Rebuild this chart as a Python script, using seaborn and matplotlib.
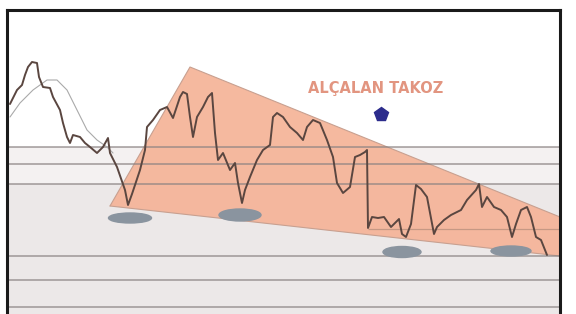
import matplotlib
matplotlib.use("Agg")
import matplotlib.pyplot as plt
from matplotlib.patches import Ellipse
import pandas as pd
import seaborn as sns

# fiyat serisi (gun, fiyat)
gun = [10, 12, 17, 22, 25, 28, 32, 37, 39, 43, 50, 53, 60, 63, 67, 70, 73, 80, 85, 90,
       97, 103, 108, 110, 117, 125, 128, 132, 140, 145, 147, 153, 160, 167, 173, 180, 183, 187, 190, 193,
       197, 200, 203, 208, 212, 215, 218, 223, 230, 235, 238, 242, 245, 250, 257, 263, 270, 273, 277, 283,
       290, 297, 303, 307, 313, 320, 327, 333, 337, 343, 350, 355, 360, 365, 367, 368, 372, 378, 384, 391,
       399, 402, 406, 411, 416, 421, 427, 434, 437, 444, 451, 461, 467, 476, 479, 482, 487, 494, 501, 507,
       512, 516, 521, 527, 531, 536, 541, 547]
fiyat = [226, 230, 240, 245, 255, 263, 268, 267, 253, 243, 242, 233, 220, 207, 193, 187, 195, 193, 187, 183,
         177, 183, 192, 177, 163, 140, 125, 136, 160, 180, 203, 210, 220, 223, 212, 233, 238, 236, 213, 193,
         213, 218, 223, 233, 237, 197, 170, 177, 160, 167, 147, 127, 140, 153, 170, 180, 185, 213, 217, 213,
         203, 197, 190, 203, 210, 207, 190, 173, 147, 137, 143, 173, 175, 178, 180, 102, 113, 112, 113, 103,
         111, 96, 93, 106, 145, 141, 133, 96, 103, 110, 115, 120, 130, 140, 146, 123, 133, 123, 120, 113,
         93, 106, 120, 123, 113, 93, 90, 75]

# hareketli ortalama
ort_gun = [10, 20, 33, 47, 57, 67, 77, 87, 97, 107, 113]
ort_fiyat = [213, 227, 240, 250, 250, 240, 220, 200, 190, 183, 177]

# alcalan takoz koseleri
takoz_gun = [110, 190, 560, 560]
takoz_fiyat = [124, 263, 113, 74]

# yatay seviyeler
seviyeler = [183, 166, 146, 74, 50, 23]
soluk_seviye = 101

# dip noktalari (gun, fiyat, genislik, yukseklik)
dip_gun = [130, 240, 402, 511]
dip_fiyat = [112, 115, 78, 79]
dip_gen = [43, 42, 38, 40]
dip_yuk = [10, 12, 11, 10]

sns.set_style("white")
fig = plt.figure(figsize=(5.76, 3.14), dpi=100)
ax = fig.add_axes([7 / 576, 0, 553 / 576, 304 / 314])
ax.set_xlim(7, 560)
ax.set_ylim(16, 320)

# arka plan
ax.axhspan(16, 146, color="#ece8e8", zorder=0, lw=0)
ax.axhspan(146, 183, color="#f4f1f1", zorder=0, lw=0)

ax.fill(takoz_gun, takoz_fiyat, color="#f5b59a", alpha=0.95, zorder=1, lw=0)
ax.plot(takoz_gun[:3], takoz_fiyat[:3], color="#c8a090", lw=0.8, zorder=2)
ax.plot([takoz_gun[0], takoz_gun[3]], [takoz_fiyat[0], takoz_fiyat[3]], color="#c8a090", lw=0.8, zorder=2)

for s in seviyeler:
    ax.axhline(s, color="#8a8282", lw=1.1, alpha=0.8, zorder=2)
ax.hlines(soluk_seviye, 368, 560, color="#a88474", lw=0.9, alpha=0.6, zorder=2)

for g, f, w, h in zip(dip_gun, dip_fiyat, dip_gen, dip_yuk):
    ax.add_patch(Ellipse((g, f), w, h, color="#8a949f", zorder=3))

df = pd.DataFrame({"gun": gun, "fiyat": fiyat})
sns.lineplot(data=df, x="gun", y="fiyat", ax=ax, color="#5a4640", lw=1.4, zorder=4)
sns.lineplot(x=ort_gun, y=ort_fiyat, ax=ax, color="#aaaaaa", lw=0.8, zorder=3)

ax.plot([381], [216], marker="p", markersize=10, color="#2c2c8c", zorder=5)
ax.text(376, 241, "ALÇALAN TAKOZ", color="#e29580", fontsize=10.5, fontweight="bold",
        ha="center", va="center", zorder=5)

ax.set_xticks([])
ax.set_yticks([])
ax.set_xlabel("")
ax.set_ylabel("")
for side in ["left", "top", "right"]:
    ax.spines[side].set_color("#1a1a1a")
    ax.spines[side].set_linewidth(2.2)
ax.spines["bottom"].set_visible(False)

fig.savefig("out.png", dpi=100)
